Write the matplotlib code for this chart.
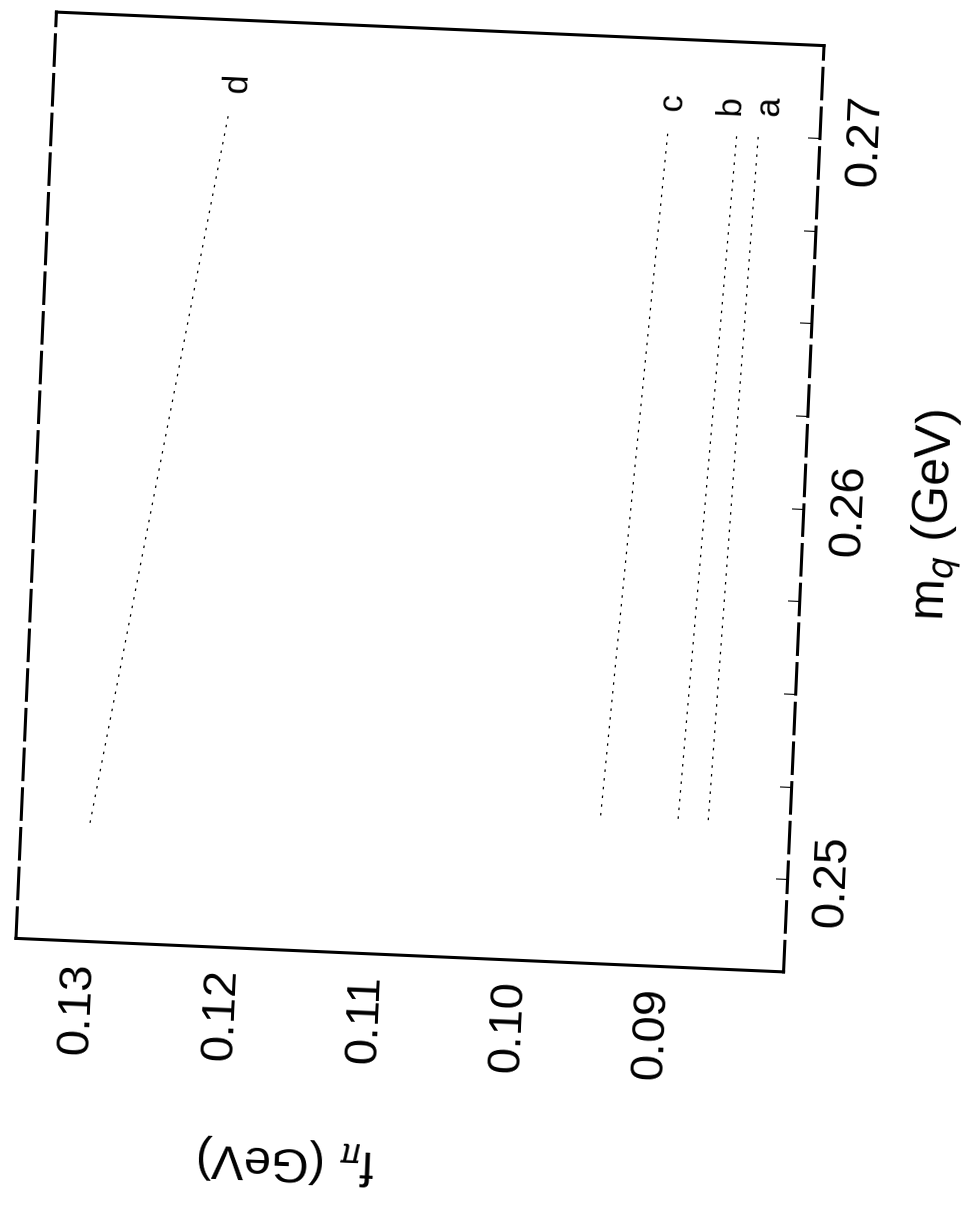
import matplotlib
matplotlib.use("Agg")
import matplotlib.pyplot as plt
from matplotlib.transforms import Affine2D
import mpl_toolkits.axisartist.floating_axes as floating_axes
from mpl_toolkits.axisartist.grid_finder import FixedLocator, DictFormatter

plt.rcParams['font.family'] = ['Liberation Sans', 'DejaVu Sans']

# curves: quark mass m_q (GeV) -> f_pi (GeV)
mq_a = [0.2515, 0.2700]
val_a = [0.0867, 0.0853]
mq_b = [0.2515, 0.2700]
val_b = [0.0888, 0.0868]
mq_c = [0.2515, 0.2700]
val_c = [0.0942, 0.0916]
mq_d = [0.2507, 0.2700]
val_d = [0.1297, 0.1222]

curve_names = ['a', 'b', 'c', 'd']

mq_ticks = [0.25, 0.2525, 0.255, 0.2575, 0.26, 0.2625, 0.265, 0.2675, 0.27]
mq_labels = {0.25: '0.25', 0.26: '0.26', 0.27: '0.27'}
val_ticks = [0.09, 0.10, 0.11, 0.12, 0.13]
val_labels = {0.09: '0.09', 0.10: '0.10', 0.11: '0.11', 0.12: '0.12', 0.13: '0.13'}

mq_lim = (0.2475, 0.2725)
val_lim = (0.081, 0.1345)

# small nudges so the curve letters don't collide
name_nudge = {'a': -0.0007, 'b': 0.0005, 'c': -0.0002, 'd': -0.0005}

# page is turned on its side
rot = 87.5
tr = Affine2D().scale(928 / (mq_lim[1] - mq_lim[0]), 769 / (val_lim[1] - val_lim[0])).rotate_deg(rot)

gh = floating_axes.GridHelperCurveLinear(
    tr, extremes=(mq_lim[0], mq_lim[1], val_lim[0], val_lim[1]),
    grid_locator1=FixedLocator(mq_ticks), tick_formatter1=DictFormatter(mq_labels),
    grid_locator2=FixedLocator(val_ticks), tick_formatter2=DictFormatter(val_labels))

fig = plt.figure(figsize=(9.62, 12.15), dpi=100)
ax = fig.add_axes([1.5 / 962, 1 - 981.5 / 1215, 837 / 962, 979 / 1215],
                  axes_class=floating_axes.FloatingAxes, grid_helper=gh)
aux = ax.get_aux_axes(tr)

for side in ['left', 'right', 'bottom', 'top']:
    ax.axis[side].line.set_linewidth(2.2)
ax.axis['bottom'].line.set_linestyle((0, (10, 3)))
ax.axis['top'].line.set_linestyle((0, (10, 3)))
ax.axis['top'].toggle(ticks=False, ticklabels=False, label=False)
ax.axis['right'].toggle(ticks=False, ticklabels=False, label=False)

ax.axis['bottom'].major_ticks.set_ticksize(9)
ax.axis['left'].major_ticks.set_ticksize(0)
for side in ['bottom', 'left']:
    ax.axis[side].major_ticklabels.set_fontsize(34)
ax.axis['bottom'].major_ticklabels.set_pad(18)
ax.axis['left'].major_ticklabels.set_pad(15)

ax.axis['bottom'].label.set_text('m$_q$ (GeV)')
ax.axis['bottom'].label.set_fontsize(36)
ax.axis['bottom'].label.set_pad(36)

# y label sits off-centre, below the lower half of the value axis
fig.text(286 / 962, 1 - 1160 / 1215, r'f$_\pi$ (GeV)', fontsize=35,
         rotation=rot + 90, ha='center', va='center', rotation_mode='anchor')

for name, xs, ys in zip(curve_names, [mq_a, mq_b, mq_c, mq_d], [val_a, val_b, val_c, val_d]):
    aux.plot(xs, ys, color='black', lw=0.9, ls=(0, (2, 5)))
    aux.text(xs[-1] + 0.0008, ys[-1] + name_nudge[name], name, fontsize=25, rotation=rot,
             ha='center', va='center', rotation_mode='anchor')

fig.savefig('out.png', dpi=100)
